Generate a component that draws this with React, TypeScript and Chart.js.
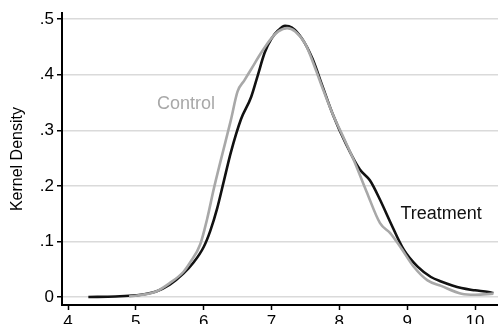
import React, { useEffect, useRef } from "react";
import { Chart, registerables } from "chart.js";

Chart.register(...registerables);

// Treatment (black) kernel density
const treatmentX = [4.3, 4.7, 5.0, 5.3, 5.5, 5.7, 5.85, 6.0, 6.1, 6.2, 6.3, 6.4, 6.55, 6.7, 6.8, 6.9, 7.0, 7.1, 7.2, 7.3, 7.45, 7.6, 7.75, 7.9, 8.1, 8.3, 8.45, 8.6, 8.75, 8.95, 9.15, 9.35, 9.5, 9.8, 10.0, 10.2, 10.27];
const treatmentY = [0.0, 0.001, 0.003, 0.01, 0.022, 0.042, 0.062, 0.09, 0.12, 0.16, 0.21, 0.26, 0.32, 0.36, 0.4, 0.44, 0.465, 0.48, 0.488, 0.485, 0.465, 0.43, 0.38, 0.33, 0.275, 0.23, 0.21, 0.175, 0.135, 0.085, 0.055, 0.036, 0.028, 0.016, 0.012, 0.009, 0.007];

// Control (gray) kernel density
const controlX = [4.9, 5.1, 5.3, 5.5, 5.7, 5.8, 5.95, 6.05, 6.15, 6.25, 6.4, 6.5, 6.6, 6.7, 6.85, 7.0, 7.1, 7.23, 7.35, 7.5, 7.65, 7.75, 7.9, 8.05, 8.2, 8.4, 8.6, 8.75, 8.9, 9.1, 9.3, 9.5, 9.8, 10.0, 10.27];
const controlY = [0.001, 0.004, 0.01, 0.025, 0.045, 0.062, 0.095, 0.14, 0.195, 0.245, 0.318, 0.37, 0.39, 0.41, 0.44, 0.466, 0.478, 0.484, 0.478, 0.455, 0.41, 0.377, 0.33, 0.29, 0.25, 0.19, 0.133, 0.115, 0.09, 0.054, 0.03, 0.02, 0.006, 0.004, 0.006];

const xTicks = [4, 5, 6, 7, 8, 9, 10];
const yTicks = [0, 0.1, 0.2, 0.3, 0.4, 0.5];
const yTickLabels = ["0", ".1", ".2", ".3", ".4", ".5"];

const seriesLabels = ["Control", "Treatment"];
const labelX = [5.74, 9.5];
const labelY = [0.348, 0.149];

const FONT = "'Liberation Sans', Arial, sans-serif";

export default function App() {
  const ref = useRef<HTMLCanvasElement | null>(null);

  useEffect(() => {
    document.body.style.margin = "0";
    const canvas = ref.current;
    if (!canvas) return;

    const labelPlugin = {
      id: "seriesLabels",
      afterDatasetsDraw(chart: any) {
        const { ctx, scales } = chart;
        ctx.save();
        ctx.font = `18px ${FONT}`;
        ctx.textAlign = "center";
        ctx.textBaseline = "middle";
        const colors = ["#a8a8a8", "#111111"];
        seriesLabels.forEach((t, i) => {
          ctx.fillStyle = colors[i];
          ctx.fillText(t, scales.x.getPixelForValue(labelX[i]), scales.y.getPixelForValue(labelY[i]));
        });
        ctx.restore();
      },
    };

    const chart = new Chart(canvas, {
      type: "line",
      data: {
        datasets: [
          {
            label: "Control",
            data: controlX.map((x, i) => ({ x, y: controlY[i] })),
            borderColor: "#a8a8a8",
            borderWidth: 2.6,
            pointRadius: 0,
            tension: 0.4,
            cubicInterpolationMode: "monotone",
            fill: false,
          },
          {
            label: "Treatment",
            data: treatmentX.map((x, i) => ({ x, y: treatmentY[i] })),
            borderColor: "#111111",
            borderWidth: 2.6,
            pointRadius: 0,
            tension: 0.4,
            cubicInterpolationMode: "monotone",
            fill: false,
          },
        ],
      },
      options: {
        responsive: false,
        animation: false,
        layout: { padding: { top: 13, right: 0, left: 0, bottom: 0 } },
        plugins: { legend: { display: false }, tooltip: { enabled: false } },
        scales: {
          x: {
            type: "linear",
            min: 3.9115,
            max: 10.339,
            afterBuildTicks: (s: any) => {
              s.ticks = xTicks.map((v) => ({ value: v }));
            },
            afterFit: (s: any) => {
              s.height = 19;
            },
            grid: {
              display: true,
              drawOnChartArea: false,
              drawTicks: true,
              tickLength: 5,
              tickColor: "#000",
              tickWidth: 1.5,
            },
            border: { display: true, color: "#000", width: 2 },
            ticks: {
              color: "#000",
              font: { family: FONT, size: 17 },
              padding: 2,
              maxRotation: 0,
              autoSkip: false,
              callback: (v: any) => String(v),
            },
          },
          y: {
            type: "linear",
            min: -0.0144,
            max: 0.5108,
            afterBuildTicks: (s: any) => {
              s.ticks = yTicks.map((v) => ({ value: v }));
            },
            afterFit: (s: any) => {
              s.width = 62;
            },
            grid: {
              display: true,
              drawOnChartArea: true,
              drawTicks: true,
              tickLength: 5,
              color: "#dadada",
              lineWidth: 1.5,
              tickColor: "#000",
              tickWidth: 1.5,
            },
            border: { display: true, color: "#000", width: 2 },
            title: {
              display: true,
              text: "Kernel Density",
              color: "#000",
              font: { family: FONT, size: 16 },
              padding: { top: 8, bottom: 0 },
            },
            ticks: {
              color: "#000",
              font: { family: FONT, size: 17 },
              padding: 3,
              autoSkip: false,
              callback: (v: any) => {
                const i = yTicks.findIndex((t) => Math.abs(t - v) < 1e-9);
                return i >= 0 ? yTickLabels[i] : "";
              },
            },
          },
        },
      },
      plugins: [labelPlugin],
    } as any);

    return () => chart.destroy();
  }, []);

  return <canvas ref={ref} width={498} height={324} style={{ display: "block" }} />;
}
